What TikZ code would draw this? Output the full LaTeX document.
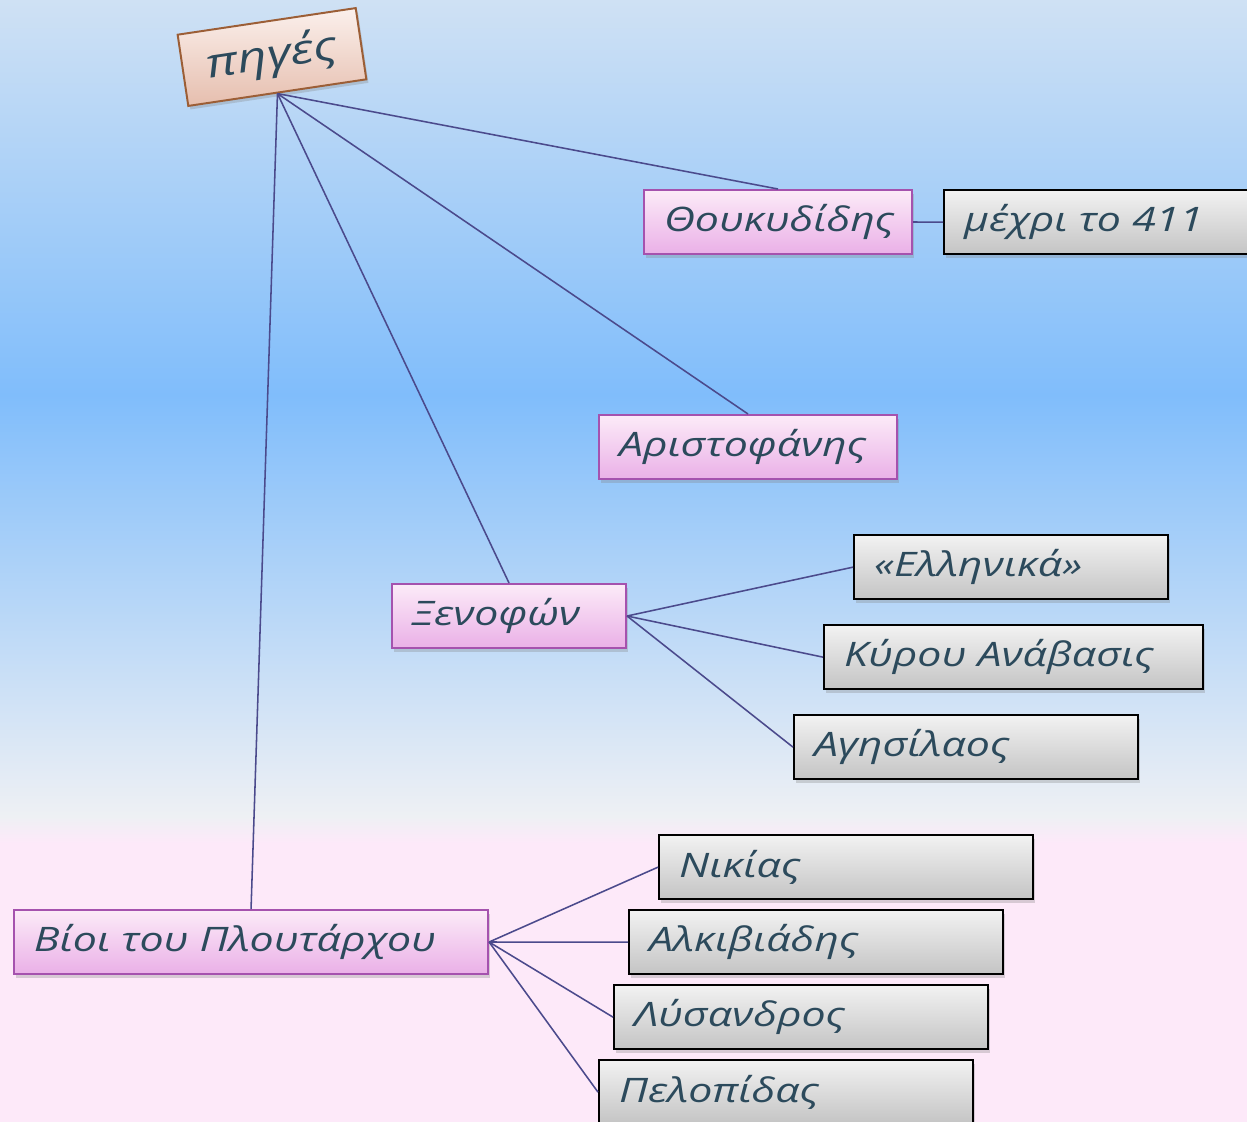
\documentclass[tikz,border=0pt]{standalone}
\usepackage{fontspec}
\newfontfamily\greekhand{Open Sans}[FakeStretch=1.27]
\usetikzlibrary{shadows}

\definecolor{ink}{HTML}{2C4A5C}
\definecolor{linkblue}{HTML}{4B4A8C}
\definecolor{bgtop}{HTML}{CFE1F4}
\definecolor{bgblue}{HTML}{80BDFB}
\definecolor{bgpale}{HTML}{EEF0F4}
\definecolor{bgpink}{HTML}{FDE9F9}
\definecolor{penpurple}{HTML}{A552AE}
\definecolor{pinklight}{HTML}{FCEBF8}
\definecolor{pinkdark}{HTML}{EAB0E7}
\definecolor{greylight}{HTML}{F2F2F2}
\definecolor{greydark}{HTML}{C4C4C4}
\definecolor{rootbrown}{HTML}{9C5E36}
\definecolor{rootlight}{HTML}{FBF0EC}
\definecolor{rootdark}{HTML}{E6BEAE}
% background: pink at the foot, bright blue band in the middle
\pgfdeclareverticalshading{skyfade}{100bp}{color(0bp)=(bgpink); color(37.4bp)=(bgpink);
  color(38.6bp)=(bgpale); color(57.4bp)=(bgblue); color(75bp)=(bgtop); color(100bp)=(bgtop)}

\begin{document}
\begin{tikzpicture}[%
    x=0.025cm, y=-0.025cm,      % one unit is one pixel of the layout
    every node/.style={font=\greekhand\itshape\fontsize{24}{28}\selectfont, text=ink},
    ]
% -------------------------------------------------
% Box styles
\tikzset{
  base/.style={draw, anchor=north west, minimum height=1.6cm, inner xsep=0.5cm,
    align=left, drop shadow={shadow xshift=1.5pt, shadow yshift=-2.5pt, opacity=0.3}},
  person/.style={base, line width=1.4pt, draw=penpurple, top color=pinklight,
    bottom color=pinkdark, text width=#1},
  work/.style={base, line width=1.6pt, draw=black, top color=greylight,
    bottom color=greydark, text width=#1},
  root/.style={draw=rootbrown, line width=1.4pt, top color=rootlight, bottom color=rootdark,
    minimum width=4.5cm, minimum height=1.8cm, rotate=8.5,
    font=\greekhand\itshape\fontsize{29}{33}\selectfont,
    drop shadow={shadow xshift=1.5pt, shadow yshift=-2.5pt, opacity=0.3}},
  link/.style={draw=linkblue, line width=1.1pt},
}
% -------------------------------------------------
\clip (0,0) rectangle (1247,1121);
\shade[shading=skyfade] (0,0) rectangle (1247,1121);

% Root and the four sources
\node [root] (p0) at (272,57) {πηγές};
\node [person=5.7cm]  (p1) at (643,189) {Θουκυδίδης};
\node [person=6.45cm] (p2) at (598,414) {Αριστοφάνης};
\node [person=4.85cm] (p3) at (391,583) {Ξενοφών};
\node [person=10.85cm] (p4) at (13,909) {Βίοι του Πλουτάρχου};

% Works of each source
\node [work=7.25cm]  (w0) at (943,189) {μέχρι το 411};
\node [work=6.85cm]  (w1) at (853,534) {«Ελληνικά»};
\node [work=8.475cm] (w2) at (823,624) {Κύρου Ανάβασις};
\node [work=7.6cm]   (w3) at (793,714) {Αγησίλαος};
\node [work=8.35cm]  (w4) at (658,834) {Νικίας};
\node [work=8.35cm]  (w5) at (628,909) {Αλκιβιάδης};
\node [work=8.35cm]  (w6) at (613,984) {Λύσανδρος};
\node [work=8.35cm]  (w7) at (598,1059) {Πελοπίδας};

% -------------------------------------------------
% Connectors
\foreach \p in {p1,p2,p3,p4}
  \draw [link] (p0.south) -- (\p.north);
\draw [link] (p1.east) -- (w0.west);
\foreach \w in {w1,w2,w3}
  \draw [link] (p3.east) -- (\w.west);
\foreach \w in {w4,w5,w6,w7}
  \draw [link] (p4.east) -- (\w.west);
% -------------------------------------------------
\end{tikzpicture}
\end{document}
